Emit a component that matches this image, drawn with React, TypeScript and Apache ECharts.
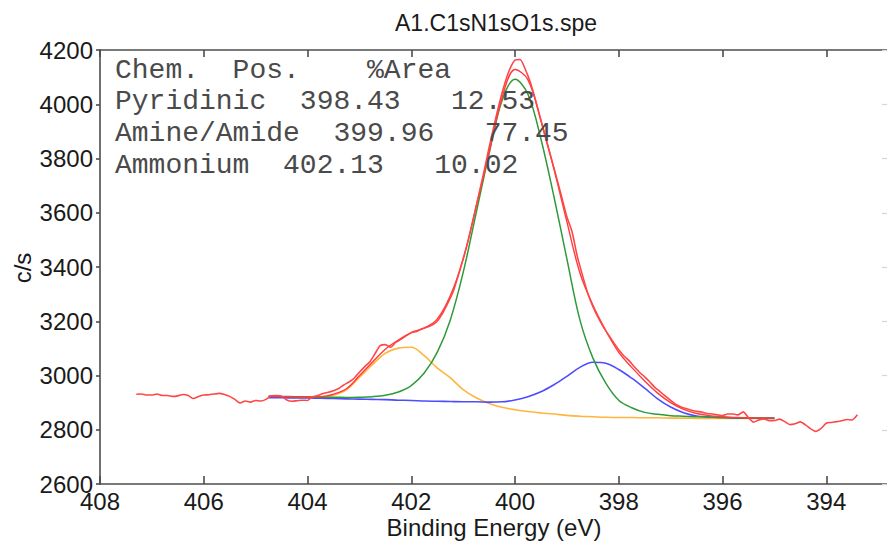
import React, { useEffect, useRef } from "react";
import * as echarts from "echarts";

// ---------- data ----------
const rawEnergy = [
  407.3, 407.2, 407.1, 407.0, 406.9, 406.8, 406.7, 406.6, 406.5, 406.4,
  406.3, 406.2, 406.1, 406.0, 405.9, 405.8, 405.7, 405.6, 405.5, 405.4,
  405.3, 405.2, 405.1, 405.0, 404.9, 404.8, 404.7, 404.6, 404.5, 404.4,
  404.3, 404.2, 404.1, 404.0, 403.9, 403.8, 403.7, 403.6, 403.5, 403.4,
  403.3, 403.2, 403.1, 403.0, 402.9, 402.8, 402.7, 402.6, 402.5, 402.4,
  402.3, 402.2, 402.1, 402.0, 401.9, 401.8, 401.7, 401.6, 401.5, 401.4,
  401.3, 401.2, 401.1, 401.0, 400.9, 400.8, 400.7, 400.6, 400.5, 400.4,
  400.3, 400.2, 400.1, 400.0, 399.9, 399.8, 399.7, 399.6, 399.5, 399.4,
  399.3, 399.2, 399.1, 399.0, 398.9, 398.8, 398.7, 398.6, 398.5, 398.4,
  398.3, 398.2, 398.1, 398.0, 397.9, 397.8, 397.7, 397.6, 397.5, 397.4,
  397.3, 397.2, 397.1, 397.0, 396.9, 396.8, 396.7, 396.6, 396.5, 396.4,
  396.3, 396.2, 396.1, 396.0, 395.9, 395.8, 395.7, 395.6, 395.5, 395.4,
  395.3, 395.2, 395.1, 395.0, 394.9, 394.8, 394.7, 394.6, 394.5, 394.4,
  394.3, 394.2, 394.1, 394.0, 393.9, 393.8, 393.7, 393.6, 393.5, 393.4,
];
const rawCounts = [
  2931, 2932, 2928, 2928, 2932, 2926, 2926, 2923, 2925, 2930,
  2926, 2915, 2923, 2928, 2929, 2932, 2934, 2930, 2923, 2912,
  2899, 2906, 2902, 2908, 2906, 2912, 2925, 2926, 2924, 2910,
  2905, 2907, 2909, 2908, 2922, 2926, 2934, 2938, 2944, 2952,
  2965, 2976, 2990, 3012, 3032, 3050, 3080, 3110, 3114, 3104,
  3122, 3133, 3146, 3158, 3162, 3172, 3178, 3186, 3200, 3228,
  3265, 3305, 3365, 3430, 3500, 3580, 3665, 3750, 3840, 3925,
  4005, 4075, 4130, 4163, 4165, 4128, 4078, 4012, 3940, 3868,
  3800, 3730, 3658, 3585, 3530, 3440, 3370, 3305, 3255, 3215,
  3180, 3150, 3122, 3095, 3072, 3055, 3032, 3012, 2995, 2976,
  2955, 2940, 2924, 2908, 2893, 2884, 2878, 2872, 2868, 2865,
  2860, 2858, 2855, 2852, 2858, 2858, 2855, 2866, 2845, 2828,
  2836, 2840, 2833, 2834, 2839, 2830, 2819, 2822, 2829, 2818,
  2803, 2794, 2805, 2824, 2827, 2830, 2833, 2838, 2836, 2855,
];

const fitEnergy = [
  404.75, 404.5, 404.25, 404.0, 403.75, 403.5, 403.25, 403.0, 402.75, 402.5,
  402.25, 402.0, 401.75, 401.5, 401.25, 401.0, 400.75, 400.5, 400.25, 400.0,
  399.75, 399.5, 399.25, 399.0, 398.75, 398.5, 398.25, 398.0, 397.75, 397.5,
  397.25, 397.0, 396.75, 396.5, 396.25, 396.0, 395.75, 395.5, 395.25, 395.0,
];
const amineAmide = [
  2924, 2923, 2922, 2921, 2920, 2920, 2919, 2920, 2922, 2927,
  2939, 2963, 3009, 3085, 3203, 3379, 3598, 3817, 4014, 4092,
  4037, 3872, 3660, 3430, 3206, 3065, 2972, 2909, 2881, 2864,
  2857, 2852, 2850, 2848, 2847, 2845, 2844, 2843, 2843, 2843,
];
const pyridinic = [
  2918, 2918, 2917, 2917, 2916, 2915, 2914, 2913, 2912, 2911,
  2909, 2908, 2906, 2905, 2904, 2903, 2903, 2902, 2903, 2910,
  2922, 2940, 2966, 2997, 3030, 3049, 3045, 3022, 2990, 2953,
  2914, 2884, 2863, 2851, 2847, 2845, 2843, 2843, 2842, 2842,
];
const ammonium = [
  2921, 2920, 2919, 2919, 2919, 2927, 2947, 2993, 3040, 3082,
  3101, 3104, 3073, 3028, 2992, 2948, 2918, 2897, 2883, 2874,
  2867, 2862, 2858, 2853, 2850, 2848, 2846, 2845, 2845, 2844,
  2844, 2843, 2843, 2842, 2842, 2842, 2842, 2842, 2842, 2842,
];
const envelope = [
  2923, 2922, 2921, 2921, 2922, 2931, 2951, 2999, 3049, 3097,
  3131, 3158, 3175, 3208, 3293, 3428, 3622, 3822, 4024, 4128,
  4090, 3940, 3762, 3567, 3379, 3260, 3166, 3085, 3030, 2980,
  2935, 2900, 2875, 2860, 2852, 2848, 2845, 2844, 2843, 2843,
];

const titleText = "A1.C1sN1sO1s.spe";
const xAxisName = "Binding Energy (eV)";
const yAxisName = "c/s";
const tableLines = [
  "Chem.  Pos.    %Area",
  "Pyridinic  398.43   12.53",
  "Amine/Amide  399.96   77.45",
  "Ammonium  402.13   10.02",
];

const pairs = (xs: number[], ys: number[]) => xs.map((x, i) => [x, ys[i]]);

export default function App() {
  const ref = useRef<HTMLDivElement>(null);
  useEffect(() => {
    if (!ref.current) return;
    const chart = echarts.init(ref.current, undefined, { renderer: "svg" });
    const sans = "'Liberation Sans', Arial, sans-serif";
    const axisColor = "#4d4d4d";
    const lineStyle = { color: axisColor, width: 1.6 };
    const lineSeries = (name: string, data: number[][], color: string, width: number, smooth: boolean | number) => ({
      name,
      type: "line",
      data,
      showSymbol: false,
      symbol: "none",
      smooth,
      lineStyle: { color, width },
      itemStyle: { color },
      xAxisIndex: 0,
      yAxisIndex: 0,
      z: 3,
    });
    const xBase = {
      type: "value",
      min: 392,
      max: 408,
      interval: 2,
      inverse: true,
      splitLine: { show: false },
      axisLine: { show: true, onZero: false, lineStyle },
    };
    const yBase = {
      type: "value",
      min: 2600,
      max: 4200,
      interval: 200,
      splitLine: { show: false },
      axisLine: { show: true, onZero: false, lineStyle },
    };
    chart.setOption({
      animation: false,
      backgroundColor: "#ffffff",
      grid: { left: 100, top: 50, right: -43, bottom: 58, outerBoundsMode: "none", containLabel: false },
      xAxis: [
        {
          ...xBase,
          position: "bottom",
          axisTick: { show: true, inside: true, length: 8, lineStyle },
          axisLabel: {
            show: true,
            fontSize: 24,
            color: "#1a1a1a",
            fontFamily: sans,
            margin: 5,
            formatter: (v: number) => (v < 393 ? "" : String(v)),
          },
        },
        {
          ...xBase,
          position: "top",
          axisTick: { show: true, inside: true, length: 7, lineStyle },
          axisLabel: { show: false },
        },
      ],
      yAxis: [
        {
          ...yBase,
          position: "left",
          axisTick: { show: true, inside: false, length: 4, lineStyle },
          axisLabel: {
            show: true,
            fontSize: 24,
            color: "#1a1a1a",
            fontFamily: sans,
            margin: 7,
            formatter: (v: number) => String(v),
          },
        },
        {
          ...yBase,
          position: "right",
          offset: -40,
          axisTick: { show: true, inside: true, length: 8, lineStyle: { color: "#d6d6d6", width: 1.2 } },
          axisLabel: { show: false },
        },
      ],
      series: [
        lineSeries("Ammonium", pairs(fitEnergy, ammonium), "#ffb53d", 1.6, 0.35),
        lineSeries("Pyridinic", pairs(fitEnergy, pyridinic), "#4d4dff", 1.6, 0.35),
        lineSeries("Amine/Amide", pairs(fitEnergy, amineAmide), "#2f9a3a", 1.5, 0.35),
        lineSeries("Envelope", pairs(fitEnergy, envelope), "#ff3b3b", 1.4, 0.35),
        lineSeries("Data", pairs(rawEnergy, rawCounts), "#ff4646", 1.6, 0.2),
      ],
      graphic: [
        {
          type: "text",
          x: 496,
          y: 23,
          style: { text: titleText, fontSize: 23, fontFamily: sans, fill: "#1a1a1a", align: "center", verticalAlign: "middle" },
        },
        {
          type: "text",
          x: 494,
          y: 527,
          style: { text: xAxisName, fontSize: 24, fontFamily: sans, fill: "#1a1a1a", align: "center", verticalAlign: "middle" },
        },
        {
          type: "text",
          x: 22,
          y: 268,
          rotation: Math.PI / 2,
          style: { text: yAxisName, fontSize: 24, fontFamily: sans, fill: "#1a1a1a", align: "center", verticalAlign: "middle" },
        },
        ...tableLines.map((t, i) => ({
          type: "text",
          x: 115,
          y: [70, 101, 133, 165][i],
          z: 10,
          style: {
            text: t,
            fontSize: 28,
            fontFamily: "'Liberation Mono', 'Courier New', monospace",
            fill: "#4a4a4a",
            align: "left",
            verticalAlign: "middle",
          },
        })),
      ],
    });
    return () => chart.dispose();
  }, []);
  return (
    <div
      ref={ref}
      style={{ position: "fixed", left: 0, top: 0, width: 887, height: 542, background: "#fff" }}
    />
  );
}
